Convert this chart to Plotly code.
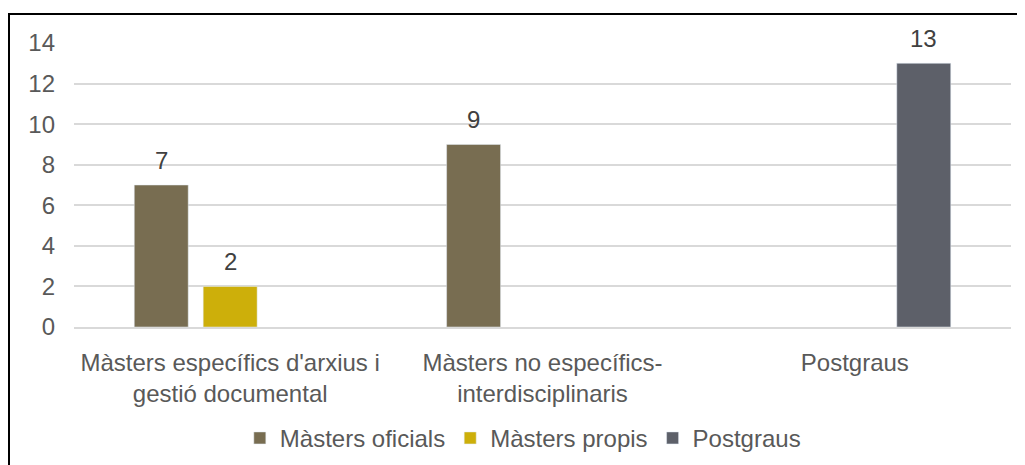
import plotly.graph_objects as go

categories = ["Màsters específics d'arxius i<br>gestió documental",
              "Màsters no específics-<br>interdisciplinaris",
              "Postgraus"]
series_names = ["Màsters oficials", "Màsters propis", "Postgraus"]
oficials = [7, 9, None]
propis = [2, None, None]
postgraus = [None, None, 13]
y_ticks = [0, 2, 4, 6, 8, 10, 12, 14]

colors = ["#786D51", "#CDAF0A", "#5D6069"]
FONT = "Arial, Liberation Sans, sans-serif"

W, H = 1017, 457
ML, MR, MT, MB = 66, 14, 35, 138
BARGAP, BARGROUPGAP = 0.338, 0.217

fig = go.Figure()
all_series = [oficials, propis, postgraus]
for name, vals, col in zip(series_names, all_series, colors):
    fig.add_trace(go.Bar(
        x=categories, y=vals, name=name, marker_color=col,
        cliponaxis=False,
    ))

# data labels placed above bars
plot_w = W - ML - MR
plot_h = H - MT - MB
cat_w = plot_w / len(categories)
slot = (1 - BARGAP) * cat_w / len(all_series)
for i, vals in enumerate(all_series):
    for j, v in enumerate(vals):
        if v is None:
            continue
        fig.add_annotation(x=categories[j], y=v, text=str(v), showarrow=False,
                           xshift=(i - (len(all_series) - 1) / 2) * slot,
                           yanchor="middle", yshift=25,
                           font=dict(size=24, color="#404040", family=FONT))

fig.update_layout(
    width=W, height=H,
    margin=dict(l=ML, r=MR, t=MT, b=MB, autoexpand=False),
    paper_bgcolor="white", plot_bgcolor="white",
    barmode="group", bargap=BARGAP, bargroupgap=BARGROUPGAP,
    font=dict(family=FONT, size=24, color="#595959"),
    legend=dict(orientation="h", x=0.479, xanchor="center", y=-0.392, yanchor="middle",
                font=dict(size=24, color="#595959"), traceorder="normal"),
    showlegend=True,
)
fig.update_yaxes(range=[0, 14], tickvals=y_ticks, showgrid=True, gridcolor="#D9D9D9",
                 gridwidth=1.5, zeroline=False, showline=False, ticks="",
                 ticklabelstandoff=18, tickfont=dict(size=24, color="#595959"))
fig.update_xaxes(showline=True, linecolor="#D9D9D9", linewidth=1.5, ticks="",
                 tickfont=dict(size=24, color="#595959"), ticklabelstandoff=13)

# outer chart frame (left edge 1px, top edge 6px from figure origin)
fig.add_shape(type="rect", xref="paper", yref="paper",
              x0=(1 - ML) / plot_w, x1=1.05, y0=-0.6, y1=(MT + plot_h - 6) / plot_h,
              line=dict(color="black", width=2), fillcolor="rgba(0,0,0,0)", layer="below")

fig.write_html("out.html")
